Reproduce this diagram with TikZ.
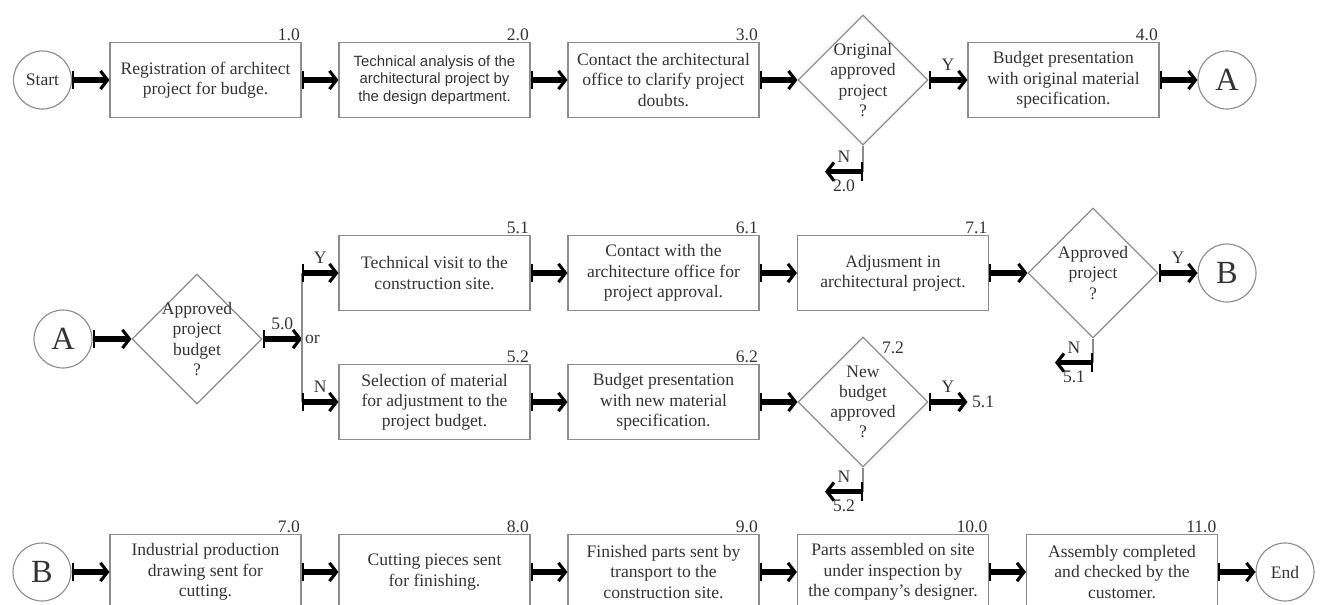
\documentclass[tikz,border=0pt]{standalone}
\usepackage{fontspec}
\setmainfont{Liberation Serif}
\newfontfamily\arialfont{Liberation Sans}
\usetikzlibrary{shapes.geometric, arrows.meta, positioning}

\definecolor{framegray}{gray}{0.55}
\definecolor{inkgray}{gray}{0.2}

\newcommand{\boxfont}{\fontsize{12.5}{14.4}\selectfont}
\newcommand{\sansbox}{\arialfont\fontsize{10.6}{12.4}\selectfont}
\newcommand{\bigletter}{\fontsize{23}{26}\selectfont}

\tikzstyle{process3} = [rectangle, minimum width=4.775cm, minimum height=1.875cm, align=center, draw=framegray, line width=0.8pt, text=inkgray, font=\boxfont]
\tikzstyle{decision3} = [diamond, aspect=1, minimum width=3.25cm, minimum height=3.25cm, inner sep=-4pt, align=center, draw=framegray, line width=0.8pt, text=inkgray, font=\boxfont]
\tikzstyle{terminal3} = [circle, minimum size=1.45cm, inner sep=0pt, draw=framegray, line width=0.8pt, text=inkgray, font=\boxfont]
\tikzstyle{connector3} = [terminal3, font=\bigletter]
\tikzstyle{tag3} = [inner sep=2pt, text=inkgray, font=\boxfont]
\tikzstyle{number3} = [anchor=south east, inner sep=1pt, text=inkgray, font=\boxfont]
\tikzstyle{thinline3} = [draw=framegray, line width=0.8pt]
\tikzstyle{arrow3} = [line width=3.6pt, {Bar[width=13pt, line width'=1.5pt]}-{Straight Barb[length=5pt, width=13pt, line width'=2.2pt]}]

\begin{document}
\begin{tikzpicture}
            \path [use as bounding box, clip] (0,0) rectangle (33.1,-15.125);

            % Row 1
            \node (start) [terminal3] at (1.0625,-2.0) {Start};
            \node (reg) [process3, right of=start, node distance=4.075cm, label={[number3]north east:1.0}] {Registration of architect\\project for budge.};
            \node (design) [process3, right of=reg, node distance=5.725cm, font=\sansbox, label={[number3]north east:2.0}] {Technical analysis of the\\architectural project by\\the design department.};
            \node (clarify) [process3, right of=design, node distance=5.725cm, label={[number3]north east:3.0}] {Contact the architectural\\office to clarify project\\doubts.};
            \node (orig) [decision3, right of=clarify, node distance=4.9875cm] {Original\\approved\\project\\?};
            \node (origpres) [process3, right of=orig, node distance=5.0125cm, label={[number3]north east:4.0}] {Budget presentation\\with original material\\specification.};
            \node (conA) [connector3, right of=origpres, node distance=4.0875cm] {A};

            % Row 2
            \node (conA2) [connector3] at (1.575,-8.475) {A};
            \node (budget) [decision3, right of=conA2, node distance=3.35cm] {Approved\\project\\budget\\?};
            \coordinate (split) at (7.55,-8.475);
            \node (visit) [process3, right of=split, node distance=3.3125cm, yshift=1.65cm, label={[number3]north east:5.1}] {Technical visit to the\\construction site.};
            \node (archcon) [process3, right of=visit, node distance=5.725cm, label={[number3]north east:6.1}] {Contact with the\\architecture office for\\project approval.};
            \node (adjust) [process3, right of=archcon, node distance=5.7375cm, label={[number3]north east:7.1}] {Adjusment in\\architectural project.};
            \node (approv) [decision3, right of=adjust, node distance=5.0cm] {Approved\\project\\?};
            \node (conB) [connector3, right of=approv, node distance=3.35cm] {B};

            \node (selmat) [process3, right of=split, node distance=3.3125cm, yshift=-1.575cm, label={[number3]north east:5.2}] {Selection of material\\for adjustment to the\\project budget.};
            \node (newpres) [process3, right of=selmat, node distance=5.725cm, label={[number3]north east:6.2}] {Budget presentation\\with new material\\specification.};
            \node (newbud) [decision3, right of=newpres, node distance=4.9875cm] {New\\budget\\approved\\?};
            \node (num72) [tag3] at ([xshift=0.75cm,yshift=-0.28cm]newbud.north) {7.2};
            \node (ret51) [tag3, anchor=west, inner sep=3pt] at ([xshift=0.975cm]newbud.east) {5.1};

            % Row 3
            \node (conB2) [connector3] at (1.05,-14.3) {B};
            \node (drawing) [process3, right of=conB2, node distance=4.0875cm, label={[number3]north east:7.0}] {Industrial production\\drawing sent for\\cutting.};
            \node (cutting) [process3, right of=drawing, node distance=5.725cm, label={[number3]north east:8.0}] {Cutting pieces sent\\for finishing.};
            \node (transp) [process3, right of=cutting, node distance=5.725cm, label={[number3]north east:9.0}] {Finished parts sent by\\transport to the\\construction site.};
            \node (assem) [process3, right of=transp, node distance=5.7375cm, label={[number3]north east:10.0}] {Parts assembled on site\\under inspection by\\the company’s designer.};
            \node (done) [process3, right of=assem, node distance=5.725cm, label={[number3]north east:11.0}] {Assembly completed\\and checked by the\\customer.};
            \node (endc) [terminal3, right of=done, node distance=4.075cm] {End};

            % Edges, row 1
            \draw [arrow3] (start) -- (reg);
            \draw [arrow3] (reg) -- (design);
            \draw [arrow3] (design) -- (clarify);
            \draw [arrow3] (clarify) -- (orig);
            \draw [arrow3] (orig) -- node[tag3, above=3pt] {Y} (origpres);
            \draw [arrow3] (origpres) -- (conA);

            \coordinate (origN) at ([yshift=-0.65cm]orig.south);
            \coordinate (origNend) at ([xshift=-0.95cm]origN);
            \draw [thinline3] (orig.south) -- (origN);
            \draw [arrow3] (origN) -- node[tag3, above=3pt] {N} node[tag3, below=2pt] {2.0} (origNend);

            % Edges, row 2
            \draw [arrow3] (conA2) -- (budget);
            \draw [arrow3] (budget) -- node[tag3, above=3pt] {5.0} (split);
            \node (ortag) [tag3, anchor=west] at (split) {or};
            \coordinate (splitY) at (split |- visit);
            \coordinate (splitN) at (split |- selmat);
            \draw [thinline3] (splitY) -- (splitN);
            \draw [arrow3] (splitY) -- node[tag3, above=3pt] {Y} (visit);
            \draw [arrow3] (splitN) -- node[tag3, above=3pt] {N} (selmat);

            \draw [arrow3] (visit) -- (archcon);
            \draw [arrow3] (archcon) -- (adjust);
            \draw [arrow3] (adjust) -- (approv);
            \draw [arrow3] (approv) -- node[tag3, above=3pt] {Y} (conB);

            \coordinate (approvN) at ([yshift=-0.6cm]approv.south);
            \coordinate (approvNend) at ([xshift=-0.95cm]approvN);
            \draw [thinline3] (approv.south) -- (approvN);
            \draw [arrow3] (approvN) -- node[tag3, above=3pt] {N} node[tag3, below=2pt] {5.1} (approvNend);

            \draw [arrow3] (selmat) -- (newpres);
            \draw [arrow3] (newpres) -- (newbud);
            \draw [arrow3] (newbud) -- node[tag3, above=3pt] {Y} (ret51);

            \coordinate (newbudN) at ([yshift=-0.6cm]newbud.south);
            \coordinate (newbudNend) at ([xshift=-0.95cm]newbudN);
            \draw [thinline3] (newbud.south) -- (newbudN);
            \draw [arrow3] (newbudN) -- node[tag3, above=3pt] {N} node[tag3, below=2pt] {5.2} (newbudNend);

            % Edges, row 3
            \draw [arrow3] (conB2) -- (drawing);
            \draw [arrow3] (drawing) -- (cutting);
            \draw [arrow3] (cutting) -- (transp);
            \draw [arrow3] (transp) -- (assem);
            \draw [arrow3] (assem) -- (done);
            \draw [arrow3] (done) -- (endc);

        \end{tikzpicture}
\end{document}
